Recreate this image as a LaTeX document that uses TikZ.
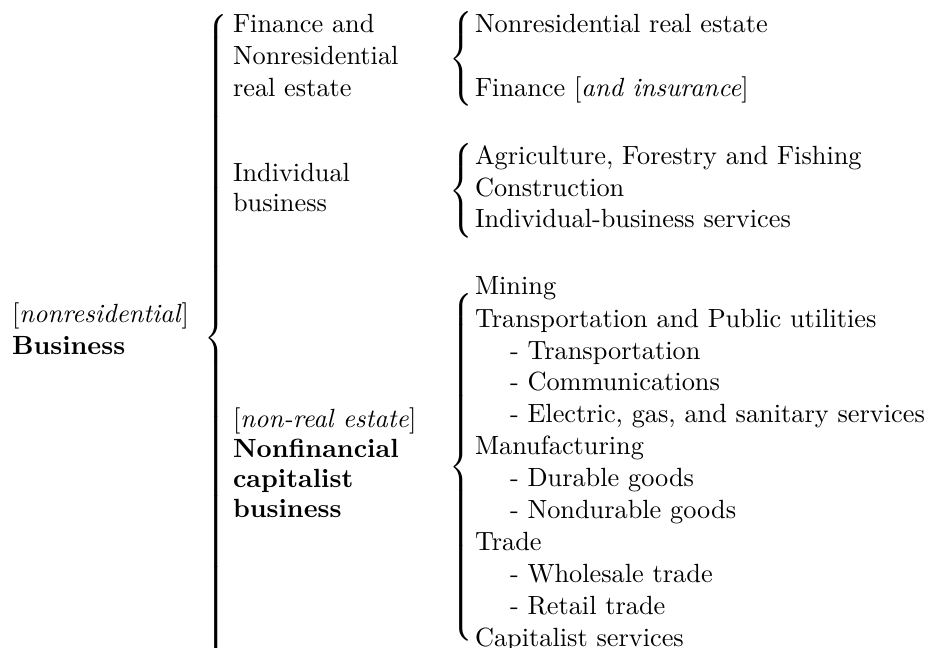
\documentclass[tikz,border=0pt]{standalone}
\delimiterfactor=1000
\delimitershortfall=0pt
% a left brace stretched to the given total height
\newcommand\lbrc[1]{$\left\{\vcenter{\hbox{\rule{0pt}{#1}}}\right.$}
\begin{document}
\begin{tikzpicture}[x=0.38pt,y=-0.38pt,
  txt/.style={anchor=base west, inner sep=0pt, outer sep=0pt},
  brc/.style={anchor=west, inner sep=0pt, outer sep=0pt}]
\useasboundingbox (0,0) rectangle (930,648);

% first level
\node[txt] (top1) at (12,322) {[\textit{nonresidential}]};
\node[txt] (top2) at (12,354) {\textbf{Business}};
\node[brc] (b0) at (204,338) {\lbrc{243pt}};

% second level
\node[txt] (fn1) at (233,33) {Finance and};
\node[txt] (fn2) at (233,65) {Nonresidential};
\node[txt] (fn3) at (233,97) {real estate};
\node[txt] (ib1) at (233,182) {Individual};
\node[txt] (ib2) at (233,212) {business};
\node[txt] (nc1) at (233,427) {[\textit{non-real estate}]};
\node[txt] (nc2) at (233,457) {\textbf{Nonfinancial}};
\node[txt] (nc3) at (233,487) {\textbf{capitalist}};
\node[txt] (nc4) at (233,517) {\textbf{business}};

% third level braces
\node[brc] (b1) at (449,59) {\lbrc{35pt}};
\node[brc] (b2) at (449,191) {\lbrc{35pt}};
\node[brc] (b3) at (449,467) {\lbrc{132pt}};

% third level items
\node[txt] (f1) at (475,33) {Nonresidential real estate};
\node[txt] (f2) at (475,97) {Finance [\textit{and insurance}]};
\node[txt] (i1) at (475,165) {Agriculture, Forestry and Fishing};
\node[txt] (i2) at (475,197) {Construction};
\node[txt] (i3) at (475,228) {Individual-business services};
\node[txt] (c1) at (475,295) {Mining};
\node[txt] (c2) at (475,327) {Transportation and Public utilities};
\node[txt] (c3) at (510,359) {- Transportation};
\node[txt] (c4) at (510,390) {- Communications};
\node[txt] (c5) at (510,422) {- Electric, gas, and sanitary services};
\node[txt] (c6) at (475,454) {Manufacturing};
\node[txt] (c7) at (510,486) {- Durable goods};
\node[txt] (c8) at (510,518) {- Nondurable goods};
\node[txt] (c9) at (475,550) {Trade};
\node[txt] (c10) at (510,582) {- Wholesale trade};
\node[txt] (c11) at (510,614) {- Retail trade};
\node[txt] (c12) at (475,646) {Capitalist services};
\end{tikzpicture}
\end{document}
